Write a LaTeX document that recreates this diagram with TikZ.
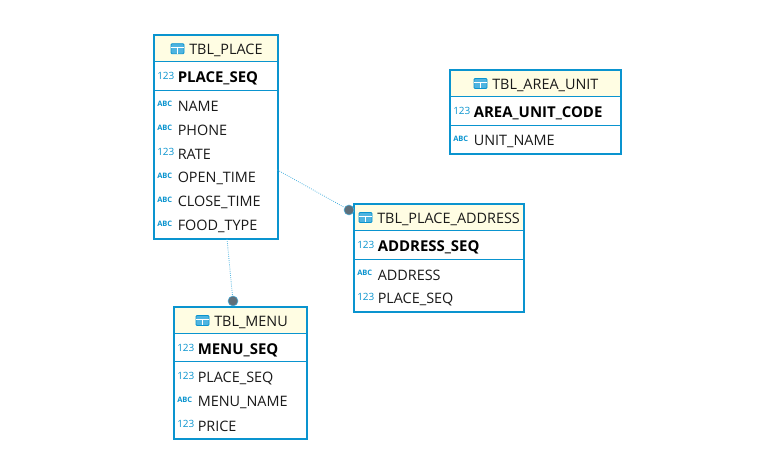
\documentclass[tikz,border=0pt]{standalone}
\usepackage{fontspec}
\setmainfont{Open Sans}
\definecolor{erblue}{HTML}{0A94CF}
\definecolor{erhead}{HTML}{FFFDE3}
\definecolor{erdot}{HTML}{5F6F7A}
\definecolor{erline}{HTML}{4FB4E0}
\newcommand{\tblfont}{\fontsize{10.8pt}{12pt}\selectfont}
\newcommand{\tblbold}{\fontsize{11.2pt}{12pt}\selectfont\bfseries}
\tikzset{
  x=0.75pt,y=-0.75pt,
  erhead/.style={fill=erhead,draw=none},
  ersep/.style={draw=erblue,line width=0.75pt},
  ertitle/.style={anchor=west,inner sep=0pt,text=black!90,font=\tblfont},
  erpk/.style={anchor=west,inner sep=0pt,text=black,font=\tblbold},
  ercol/.style={anchor=west,inner sep=0pt,text=black!90,font=\tblfont},
  icnum/.style={anchor=west,inner sep=0pt,text=erblue,font=\fontsize{7.5pt}{8pt}\selectfont},
  icabc/.style={anchor=west,inner sep=0pt,text=erblue,font=\fontsize{5.6pt}{6pt}\selectfont\bfseries},
  erdotstyle/.style={circle,fill=erdot,draw=erline,line width=0.4pt,minimum size=7.5pt,inner sep=0pt},
  erlink/.style={draw=erline,line width=0.6pt,densely dotted},
}
% #1 name, #2 x1, #3 y1, #4 x2, #5 y2, #6 sep1, #7 sep2, #8 title x, #9 title
\newcommand{\ertable}[9]{
  \fill[erhead] (#2,#3) rectangle (#4,#6);
  \draw[ersep] (#2,#6) -- (#4,#6);
  \draw[ersep] (#2,#7) -- (#4,#7);
  \node[draw=erblue,line width=1.5pt,inner sep=0pt,outer sep=0pt,minimum width={(#4-#2)*0.75pt},minimum height={(#5-#3)*0.75pt},anchor=north west] (#1) at (#2,#3) {};
  \draw[erblue,line width=0.7pt,fill=erline,rounded corners=0.8pt] (#8-18,{(#3+#6)/2-5}) rectangle (#8-5,{(#3+#6)/2+5});
  \draw[white,line width=0.5pt] (#8-18,{(#3+#6)/2-1}) -- (#8-5,{(#3+#6)/2-1}) (#8-11.5,{(#3+#6)/2-1}) -- (#8-11.5,{(#3+#6)/2+5});
  \node[ertitle] (#1title) at (#8,{(#3+#6)/2+1.5}) {#9};
}
\newcommand{\ernum}[4]{\node[icnum] (#1i) at (#2-20.5,#3-1) {123}; \node[ercol] (#1) at (#2,#3+1.5) {#4};}
\newcommand{\erpknum}[4]{\node[icnum] (#1i) at (#2-20.5,#3-1) {123}; \node[erpk] (#1) at (#2,#3+1.5) {#4};}
\newcommand{\erabc}[4]{\node[icabc] (#1i) at (#2-20.5,#3-1) {ABC}; \node[ercol] (#1) at (#2,#3+1.5) {#4};}
\begin{document}
\begin{tikzpicture}
\useasboundingbox (0,0) rectangle (765,466);
\fill[white] (0,0) rectangle (765,466);

% TBL_PLACE
\ertable{place}{154}{35.5}{277.5}{239}{62}{90.5}{189}{TBL\_PLACE}
\erpknum{pa}{177.5}{77}{PLACE\_SEQ}
\erabc{pb}{177.5}{105}{NAME}
\erabc{pc}{177.5}{129}{PHONE}
\ernum{pd}{177.5}{153}{RATE}
\erabc{pe}{177.5}{177}{OPEN\_TIME}
\erabc{pf}{177.5}{201}{CLOSE\_TIME}
\erabc{pg}{177.5}{225}{FOOD\_TYPE}

% TBL_AREA_UNIT
\ertable{area}{450}{70}{621}{154}{97}{125.5}{492}{TBL\_AREA\_UNIT}
\erpknum{aa}{473.5}{112}{AREA\_UNIT\_CODE}
\erabc{ab}{473.5}{140}{UNIT\_NAME}

% TBL_PLACE_ADDRESS
\ertable{addr}{354}{204}{524}{312}{231}{259.5}{377}{TBL\_PLACE\_ADDRESS}
\erpknum{da}{377.5}{246}{ADDRESS\_SEQ}
\erabc{db}{377.5}{274}{ADDRESS}
\ernum{dc}{377.5}{298}{PLACE\_SEQ}

% TBL_MENU
\ertable{menu}{174}{307}{307}{439}{334}{362}{214}{TBL\_MENU}
\erpknum{ma}{197.5}{349}{MENU\_SEQ}
\ernum{mb}{197.5}{377}{PLACE\_SEQ}
\erabc{mc}{197.5}{401}{MENU\_NAME}
\ernum{md}{197.5}{425}{PRICE}

% connectors
\node[erdotstyle] (dotaddr) at (349,210) {};
\node[erdotstyle] (dotmenu) at (233,301) {};
\coordinate (srcaddr) at (place.east |- 0,170);
\coordinate (srcmenu) at (227,239);
\draw[erlink] (srcaddr) -- (dotaddr);
\draw[erlink] (srcmenu) -- (dotmenu);
\end{tikzpicture}
\end{document}
